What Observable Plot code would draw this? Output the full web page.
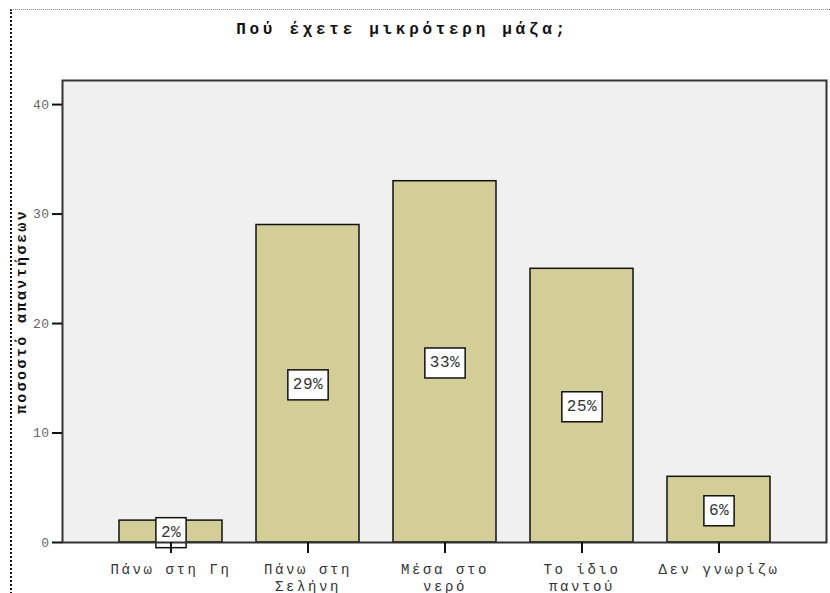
<!DOCTYPE html>
<html>
<head>
<meta charset="utf-8">
<script src="https://cdn.jsdelivr.net/npm/d3@7"></script>
<script src="https://cdn.jsdelivr.net/npm/@observablehq/plot@0.6"></script>
<style>
  html, body { margin: 0; padding: 0; background: #fff; overflow: hidden; }
  #chart { position: relative; width: 830px; height: 593px; }
  #chart .sheet {
    position: absolute; left: 10px; top: 9px; width: 900px; height: 700px;
    border-left: 2px dotted #111; border-top: 1px dotted #888; pointer-events: none;
  }
  g[aria-label="x-axis tick label"] text { letter-spacing: 2.6px; }
  g[aria-label="y-axis tick label"] text { letter-spacing: 0.5px; }
</style>
</head>
<body>
<div id="chart"><div class="sheet"></div></div>
<script>
// Answers to "where is your mass smaller?" (percent of responses)
const categories = ["Πάνω στη Γη", "Πάνω στη Σελήνη", "Μέσα στο νερό", "Το ίδιο παντού", "Δεν γνωρίζω"];
const tickLabels = ["Πάνω στη Γη", "Πάνω στη\nΣελήνη", "Μέσα στο\nνερό", "Το ίδιο\nπαντού", "Δεν γνωρίζω"];
const percents = [2, 29, 33, 25, 6];
const yTicks = [0, 10, 20, 30, 40];
const title = "Πού έχετε μικρότερη μάζα;";
const yLabel = "ποσοστό απαντήσεων";

const rows = categories.map((c, i) => ({category: c, percent: percents[i]}));
const mono = "'Liberation Mono', 'DejaVu Sans Mono', monospace";

const plot = Plot.plot({
  width: 830,
  height: 593,
  marginTop: 80,
  marginBottom: 51,
  marginLeft: 62,
  marginRight: 4,
  style: {fontFamily: mono, background: "transparent"},
  x: {domain: categories, paddingInner: 0.25, paddingOuter: 0.408},
  y: {domain: [0, 42.2]},
  marks: [
    Plot.frame({fill: "#f0f0f0", stroke: "none"}),
    Plot.barY(rows, {x: "category", y: "percent", fill: "#d3ce97", stroke: "#111", strokeWidth: 1.5}),
    // percentage labels, centred in each bar
    Plot.text(rows, {
      x: "category", y: d => d.percent / 2, text: d => `${d.percent}%`,
      fontSize: 16, fill: "#333", lineAnchor: "middle"
    }),
    Plot.frame({stroke: "#333", strokeWidth: 2}),
    Plot.axisY({
      ticks: yTicks, tickSize: 10, tickPadding: 3, strokeWidth: 2, stroke: "#111",
      fill: "#666", fontSize: 13, label: null
    }),
    Plot.axisX({
      tickSize: 11, tickPadding: 9, strokeWidth: 2, stroke: "#111", fill: "#333",
      fontSize: 14, lineHeight: 1.2, label: null,
      tickFormat: c => tickLabels[categories.indexOf(c)]
    }),
    // title
    Plot.text([title], {
      frameAnchor: "top", dx: -42, dy: -47, lineAnchor: "bottom", textAnchor: "middle",
      fontSize: 16, fontWeight: "bold", fill: "#111"
    }),
    // y-axis title
    Plot.text([yLabel], {
      frameAnchor: "left", dx: -37, rotate: -90, lineAnchor: "bottom", textAnchor: "middle",
      fontSize: 15, fontWeight: "bold", fill: "#111"
    })
  ]
});

document.getElementById("chart").appendChild(plot);

const [barLabels, titleText, yTitle] = plot.querySelectorAll('g[aria-label="text"]');
barLabels.style.letterSpacing = "0.5px";
titleText.style.letterSpacing = "3.7px";
yTitle.style.letterSpacing = "2.4px";

// White boxes behind the percentage labels
barLabels.querySelectorAll("text").forEach(t => {
  const b = t.getBBox();
  const r = document.createElementNS("http://www.w3.org/2000/svg", "rect");
  r.setAttribute("x", b.x - 5);
  r.setAttribute("y", b.y - 6);
  r.setAttribute("width", b.width + 10);
  r.setAttribute("height", b.height + 12);
  r.setAttribute("fill", "#fff");
  r.setAttribute("stroke", "#111");
  r.setAttribute("stroke-width", 1.5);
  const tr = t.getAttribute("transform");
  if (tr) r.setAttribute("transform", tr);
  t.parentNode.insertBefore(r, t);
});
</script>
</body>
</html>
